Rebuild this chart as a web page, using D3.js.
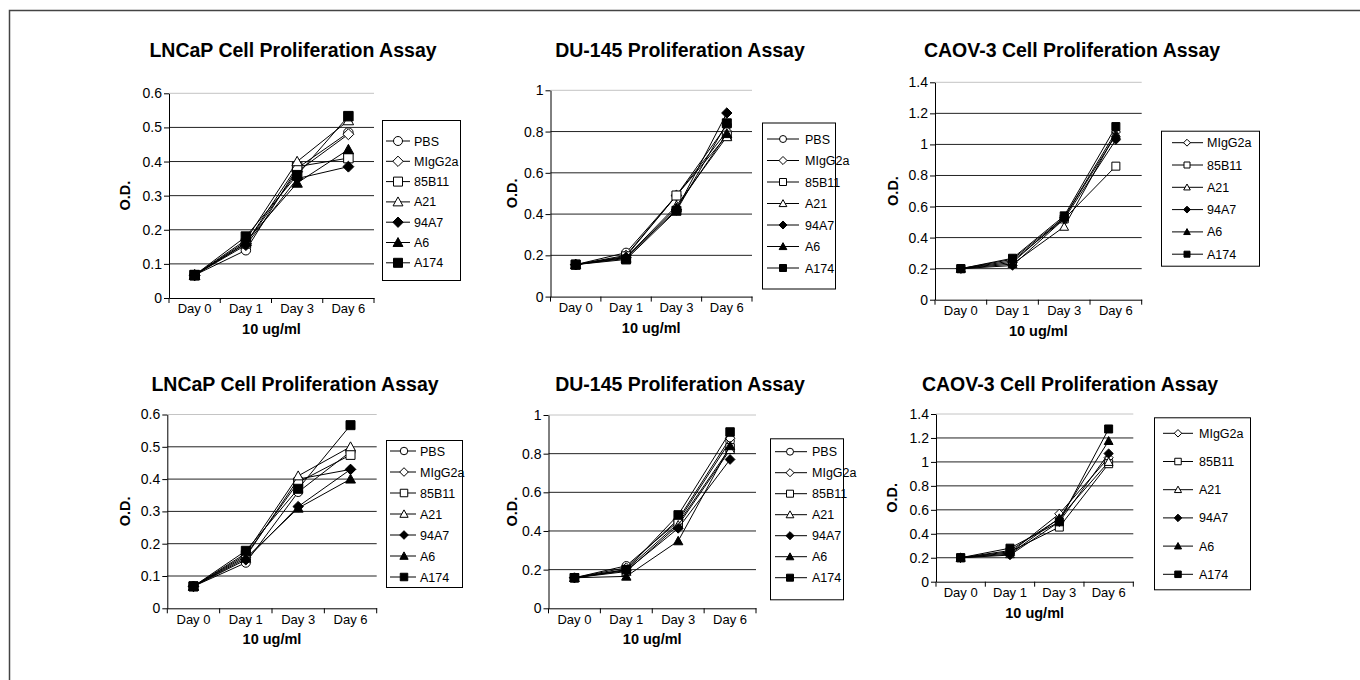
<!DOCTYPE html>
<html lang="en">
<head>
    <meta charset="UTF-8">
    <title>Proliferation assays</title>
    <style>
        body { margin: 0; background: #fff; }
        svg { display: block; font-family: "Liberation Sans", Arial, sans-serif; }
    </style>
</head>
<body>
<svg id="chart"></svg>
<script src="https://cdnjs.cloudflare.com/ajax/libs/d3/7.8.5/d3.min.js"></script>
<script>
    var width = 1360;
    var height = 680;

    // categories
    var days = ["Day 0", "Day 1", "Day 3", "Day 6"];
    var groupsAll = ["PBS", "MIgG2a", "85B11", "A21", "94A7", "A6", "A174"];
    var groupsCaov = ["MIgG2a", "85B11", "A21", "94A7", "A6", "A174"];

    // O.D. values, one row per group, one column per day
    var lncapTop = [
        [0.067, 0.140, 0.380, 0.485],
        [0.067, 0.160, 0.370, 0.480],
        [0.067, 0.160, 0.385, 0.410],
        [0.067, 0.170, 0.400, 0.520],
        [0.067, 0.155, 0.350, 0.385],
        [0.067, 0.165, 0.337, 0.435],
        [0.067, 0.180, 0.360, 0.533]
    ];
    var du145Top = [
        [0.155, 0.213, 0.490, 0.830],
        [0.155, 0.200, 0.490, 0.800],
        [0.155, 0.195, 0.490, 0.780],
        [0.155, 0.190, 0.440, 0.775],
        [0.155, 0.190, 0.420, 0.890],
        [0.155, 0.185, 0.430, 0.790],
        [0.155, 0.180, 0.416, 0.840]
    ];
    var caovTop = [
        [0.200, 0.240, 0.530, 1.080],
        [0.200, 0.250, 0.520, 0.860],
        [0.200, 0.230, 0.470, 1.070],
        [0.200, 0.220, 0.520, 1.030],
        [0.200, 0.260, 0.530, 1.060],
        [0.200, 0.267, 0.540, 1.115]
    ];
    var lncapBottom = [
        [0.068, 0.141, 0.360, 0.485],
        [0.068, 0.160, 0.400, 0.430],
        [0.068, 0.165, 0.390, 0.475],
        [0.068, 0.170, 0.410, 0.500],
        [0.068, 0.150, 0.315, 0.430],
        [0.068, 0.155, 0.310, 0.400],
        [0.068, 0.178, 0.370, 0.567]
    ];
    var du145Bottom = [
        [0.158, 0.220, 0.450, 0.865],
        [0.158, 0.210, 0.460, 0.880],
        [0.158, 0.200, 0.440, 0.830],
        [0.158, 0.190, 0.430, 0.820],
        [0.158, 0.195, 0.414, 0.770],
        [0.158, 0.165, 0.348, 0.840],
        [0.158, 0.200, 0.483, 0.912]
    ];
    var caovBottom = [
        [0.200, 0.240, 0.567, 1.035],
        [0.200, 0.250, 0.456, 0.985],
        [0.200, 0.230, 0.530, 1.000],
        [0.200, 0.222, 0.500, 1.070],
        [0.200, 0.260, 0.526, 1.175],
        [0.200, 0.280, 0.500, 1.275]
    ];

    // marker for each group
    var markers = {
        "PBS": "circle", "MIgG2a": "diamond", "85B11": "square", "A21": "triangle",
        "94A7": "diamondFill", "A6": "triangleFill", "A174": "squareFill"
    };

    // layout of the six small charts
    var panels = [
        {title: "LNCaP Cell Proliferation Assay", groups: groupsAll, values: lncapTop,
            yMax: 0.6, yStep: 0.1, box: [169, 374, 93.3, 298], titleX: 293, titleY: 57, yLabelX: 130, ms: 9.5,
            legend: {x: 382, y: 120, w: 78, h: 160, first: 141, step: 20.3, l0: 4, l1: 28, mark: 16, text: 32, ms: 9}},
        {title: "DU-145 Proliferation Assay", groups: groupsAll, values: du145Top,
            yMax: 1, yStep: 0.2, box: [550.5, 752, 90.3, 296.6], titleX: 680, titleY: 57, yLabelX: 517, ms: 9,
            legend: {x: 762, y: 122.5, w: 73, h: 166, first: 139, step: 21.5, l0: 5, l1: 37, mark: 21, text: 43, ms: 7}},
        {title: "CAOV-3 Cell Proliferation Assay", groups: groupsCaov, values: caovTop,
            yMax: 1.4, yStep: 0.2, box: [935, 1141.7, 82.3, 299.7], titleX: 1072, titleY: 57, yLabelX: 898, ms: 8,
            legend: {x: 1161, y: 130.7, w: 98, h: 135, first: 142.7, step: 22.3, l0: 11, l1: 42, mark: 26, text: 46, ms: 6}},
        {title: "LNCaP Cell Proliferation Assay", groups: groupsAll, values: lncapBottom,
            yMax: 0.6, yStep: 0.1, box: [167.3, 376.7, 414.5, 608.3], titleX: 295, titleY: 391, yLabelX: 130, ms: 9,
            legend: {x: 386, y: 440, w: 76, h: 147, first: 451, step: 21, l0: 4, l1: 30, mark: 18, text: 34, ms: 7.5}},
        {title: "DU-145 Proliferation Assay", groups: groupsAll, values: du145Bottom,
            yMax: 1, yStep: 0.2, box: [548.5, 756, 415, 608.3], titleX: 680, titleY: 391, yLabelX: 517, ms: 8.5,
            legend: {x: 770, y: 438.3, w: 73, h: 161, first: 451.7, step: 21, l0: 5, l1: 37, mark: 20, text: 42, ms: 7}},
        {title: "CAOV-3 Cell Proliferation Assay", groups: groupsCaov, values: caovBottom,
            yMax: 1.4, yStep: 0.2, box: [936, 1133.3, 414, 581.7], titleX: 1070, titleY: 391, yLabelX: 897, ms: 8,
            legend: {x: 1154, y: 417.3, w: 96, h: 172, first: 433.3, step: 28.2, l0: 9, l1: 39, mark: 24, text: 45, ms: 6.5}}
    ];

    var svg = d3.select("#chart")
        .attr("width", width)
        .attr("height", height);

    svg.append("rect").attr("width", width).attr("height", height).attr("fill", "#fff");
    // figure frame (right and bottom edges run off the page)
    svg.append("rect")
        .attr("x", 9.5).attr("y", 10.5)
        .attr("width", 1400).attr("height", 700)
        .attr("fill", "none").attr("stroke", "#444").attr("stroke-width", 1.5);

    //path for one marker, s is its full size
    function markerPath(type, s) {
        var h = s / 2, p = d3.path();
        if (type.indexOf("circle") === 0) {
            p.moveTo(h, 0); p.arc(0, 0, h, 0, Math.PI * 2);
        } else if (type.indexOf("square") === 0) {
            p.rect(-h, -h, s, s);
        } else if (type.indexOf("diamond") === 0) {
            var d = h * 1.15;
            p.moveTo(0, -d); p.lineTo(d, 0); p.lineTo(0, d); p.lineTo(-d, 0); p.closePath();
        } else {
            var t = h * 1.1;
            p.moveTo(0, -t); p.lineTo(t, t * 0.8); p.lineTo(-t, t * 0.8); p.closePath();
        }
        return p.toString();
    }
    function isFilled(type) { return type.indexOf("Fill") > 0; }

    function drawMarker(sel, type, s) {
        sel.append("path")
            .attr("d", markerPath(type, s))
            .attr("fill", isFilled(type) ? "#000" : "#fff")
            .attr("stroke", "#000")
            .attr("stroke-width", 1);
    }

    function drawPanel(p) {
        var g = svg.append("g");
        var x0 = p.box[0], x1 = p.box[1], yT = p.box[2], yB = p.box[3];
        var x = d3.scaleBand().domain(days).range([x0, x1]);
        var y = d3.scaleLinear().domain([0, p.yMax]).range([yB, yT]);
        var cx = function(day) { return x(day) + x.bandwidth() / 2; };
        var ticks = d3.range(0, p.yMax + p.yStep / 2, p.yStep).map(function(v) { return +v.toFixed(2); });

        // title
        g.append("text")
            .attr("x", p.titleX).attr("y", p.titleY)
            .attr("text-anchor", "middle")
            .attr("font-size", 19.5).attr("font-weight", "bold")
            .text(p.title);

        // gridlines, the top one is light
        g.selectAll("line.grid")
            .data(ticks.filter(function(t) { return t > 0; }))
            .join("line")
            .attr("class", "grid")
            .attr("x1", x0).attr("x2", x1)
            .attr("y1", function(d) { return y(d); })
            .attr("y2", function(d) { return y(d); })
            .attr("stroke", function(d) { return d === ticks[ticks.length - 1] ? "#c4c4c4" : "#222"; })
            .attr("stroke-width", 1);

        // y axis
        var ya = g.append("g")
            .attr("transform", "translate(" + x0 + ",0)")
            .call(d3.axisLeft(y).tickValues(ticks).tickSize(5).tickSizeOuter(0).tickPadding(2).tickFormat(String));
        ya.attr("font-size", 14).attr("font-family", null);
        ya.selectAll("line, path").attr("stroke", "#000");

        // x axis: labels in the middle, ticks on the boundaries
        var xa = g.append("g")
            .attr("transform", "translate(0," + yB + ")")
            .call(d3.axisBottom(x).tickSize(0).tickSizeOuter(0).tickPadding(6));
        xa.attr("font-size", 13).attr("font-family", null);
        xa.select("path").attr("stroke", "#000");
        xa.selectAll("line.bound")
            .data(d3.range(days.length + 1))
            .join("line")
            .attr("class", "bound")
            .attr("x1", function(i) { return x0 + i * x.step(); })
            .attr("x2", function(i) { return x0 + i * x.step(); })
            .attr("y1", 0).attr("y2", 5)
            .attr("stroke", "#000");

        // axis titles
        g.append("text")
            .attr("x", (x0 + x1) / 2).attr("y", yB + 36)
            .attr("text-anchor", "middle")
            .attr("font-size", 14.5).attr("font-weight", "bold")
            .text("10 ug/ml");
        g.append("text")
            .attr("transform", "translate(" + p.yLabelX + "," + (yT + yB) / 2 + ") rotate(-90)")
            .attr("text-anchor", "middle")
            .attr("font-size", 14.5).attr("font-weight", "bold")
            .text("O.D.");

        // series
        var line = d3.line()
            .x(function(v, i) { return cx(days[i]); })
            .y(function(v) { return y(v); });
        p.groups.forEach(function(name, k) {
            var vals = p.values[k];
            var s = g.append("g");
            s.append("path")
                .attr("d", line(vals))
                .attr("fill", "none")
                .attr("stroke", "#000")
                .attr("stroke-width", 1);
            vals.forEach(function(v, i) {
                var m = s.append("g").attr("transform", "translate(" + cx(days[i]) + "," + y(v) + ")");
                drawMarker(m, markers[name], p.ms);
            });
        });

        // legend
        var L = p.legend;
        var lg = g.append("g");
        lg.append("rect")
            .attr("x", L.x + 0.5).attr("y", L.y + 0.5)
            .attr("width", L.w).attr("height", L.h)
            .attr("fill", "#fff").attr("stroke", "#000").attr("stroke-width", 1);
        p.groups.forEach(function(name, k) {
            var ly = L.first + k * L.step;
            lg.append("line")
                .attr("x1", L.x + L.l0).attr("x2", L.x + L.l1)
                .attr("y1", ly).attr("y2", ly)
                .attr("stroke", "#000");
            var m = lg.append("g").attr("transform", "translate(" + (L.x + L.mark) + "," + ly + ")");
            drawMarker(m, markers[name], L.ms);
            lg.append("text")
                .attr("x", L.x + L.text).attr("y", ly)
                .attr("dy", "0.36em")
                .attr("font-size", 12.5)
                .text(name);
        });
    }

    panels.forEach(drawPanel);
</script>
</body>
</html>
